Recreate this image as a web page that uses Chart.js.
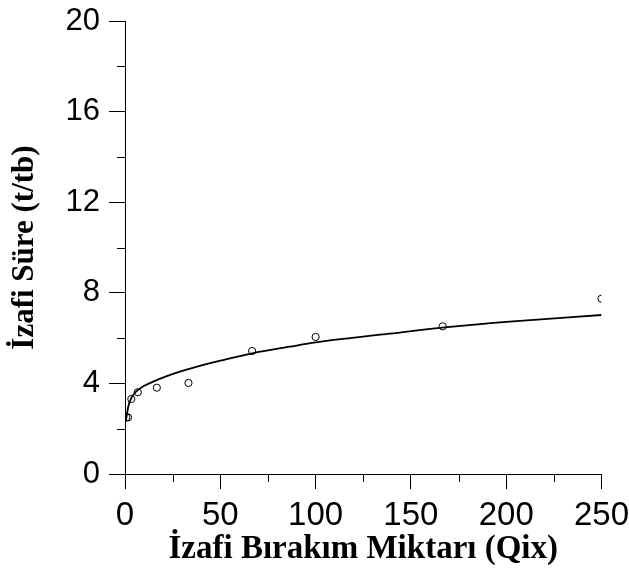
<!DOCTYPE html>
<html>
<head>
<meta charset="utf-8">
<script src="https://cdn.jsdelivr.net/npm/chart.js@4.4.1/dist/chart.umd.min.js"></script>
<style>
  body { margin: 0; background: #fff; }
  canvas { display: block; }
</style>
</head>
<body>
<canvas id="chart" width="629" height="573"></canvas>
<script>
// measured points
const pointX = [0.7, 1.6, 3.3, 6.7, 16.7, 33.3, 66.7, 100, 166.7, 250];
const pointY = [2.5, 2.5, 3.31, 3.61, 3.81, 4.02, 5.43, 6.05, 6.52, 7.74];

// fitted curve
const curveX = [0.4, 1.7, 3.5, 6.1, 9.6, 14.8, 21.9, 28.8, 36, 51.5, 66.8, 86.5, 100, 121.5, 137, 166.4, 203.6, 250];
const curveY = [2.31, 2.97, 3.38, 3.66, 3.87, 4.08, 4.32, 4.52, 4.70, 5.03, 5.33, 5.62, 5.81, 6.03, 6.18, 6.46, 6.74, 7.02];

const xTicks = [0, 50, 100, 150, 200, 250];
const yTicks = [0, 4, 8, 12, 16, 20];

const xTitle = 'İzafi Bırakım Miktarı (Qix)';
const yTitle = 'İzafi Süre (t/tb)';

function toXY(xs, ys) {
    return xs.map((x, i) => ({ x: x, y: ys[i] }));
}

// draws the short ticks half way between the labelled ones
const minorTicks = {
    id: 'minorTicks',
    afterDraw(chart) {
        const ctx = chart.ctx;
        const xs = chart.scales.x;
        const ys = chart.scales.y;
        ctx.save();
        ctx.strokeStyle = '#000';
        ctx.lineWidth = 1;
        ctx.beginPath();
        for (let i = 0; i < xTicks.length - 1; i++) {
            const px = Math.round(xs.getPixelForValue((xTicks[i] + xTicks[i + 1]) / 2)) + 0.5;
            ctx.moveTo(px, ys.bottom);
            ctx.lineTo(px, ys.bottom + 8);
        }
        for (let i = 0; i < yTicks.length - 1; i++) {
            const py = Math.round(ys.getPixelForValue((yTicks[i] + yTicks[i + 1]) / 2)) + 0.5;
            ctx.moveTo(xs.left, py);
            ctx.lineTo(xs.left - 8, py);
        }
        ctx.stroke();
        ctx.restore();
    }
};

new Chart(document.getElementById('chart'), {
    type: 'scatter',
    data: {
        datasets: [
            {
                data: toXY(curveX, curveY),
                showLine: true,
                borderColor: '#000',
                borderWidth: 1.8,
                pointRadius: 0,
                cubicInterpolationMode: 'monotone',
                fill: false
            },
            {
                data: toXY(pointX, pointY),
                showLine: false,
                pointRadius: 3.6,
                pointBorderWidth: 1,
                pointBorderColor: '#000',
                pointBackgroundColor: 'rgba(255,255,255,0)'
            }
        ]
    },
    options: {
        responsive: false,
        animation: false,
        layout: { padding: { top: 21, right: 27.5, left: 0, bottom: 0 } },
        plugins: { legend: { display: false }, tooltip: { enabled: false } },
        scales: {
            x: {
                type: 'linear',
                min: 0,
                max: 250,
                afterFit(scale) {
                    scale.height = 99;
                    scale.paddingLeft = 0;
                    scale.paddingRight = 0;
                },
                afterBuildTicks(scale) { scale.ticks = xTicks.map(v => ({ value: v })); },
                grid: { drawOnChartArea: false, drawTicks: true, tickLength: 15, color: '#000' },
                border: { display: true, color: '#000', width: 1 },
                ticks: { color: '#000', padding: 7, maxRotation: 0, font: { family: 'Liberation Sans, Arial, sans-serif', size: 33 } },
                title: {
                    display: true,
                    text: xTitle,
                    color: '#000',
                    padding: { top: 0, bottom: 4 },
                    font: { family: 'Liberation Serif, Times New Roman, serif', size: 33, weight: 'bold' }
                }
            },
            y: {
                type: 'linear',
                min: 0,
                max: 20,
                afterFit(scale) {
                    scale.width = 125;
                    scale.paddingTop = 0;
                    scale.paddingBottom = 0;
                },
                afterBuildTicks(scale) { scale.ticks = yTicks.map(v => ({ value: v })); },
                grid: { drawOnChartArea: false, drawTicks: true, tickLength: 16, color: '#000' },
                border: { display: true, color: '#000', width: 1 },
                ticks: { color: '#000', padding: 9, font: { family: 'Liberation Sans, Arial, sans-serif', size: 31 } },
                title: {
                    display: true,
                    text: yTitle,
                    color: '#000',
                    padding: { top: 6, bottom: 0 },
                    font: { family: 'Liberation Serif, Times New Roman, serif', size: 31, weight: 'bold' }
                }
            }
        }
    },
    plugins: [minorTicks]
});
</script>
</body>
</html>
